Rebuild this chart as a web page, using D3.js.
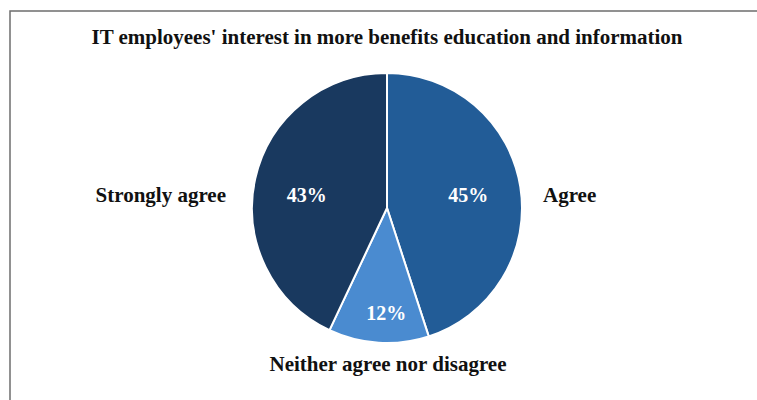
<!DOCTYPE html>
<html>
<head>
<meta charset="utf-8">
<script src="https://cdn.jsdelivr.net/npm/d3@7"></script>
<style>
  html, body { margin: 0; padding: 0; background: #fff; }
  svg { display: block; }
</style>
</head>
<body>
<svg id="chart" width="757" height="400"></svg>
<script>
const title = "IT employees' interest in more benefits education and information";
const categories = ["Agree", "Neither agree nor disagree", "Strongly agree"];
const values = [45, 12, 43];
const colors = ["#225c97", "#4a8bd0", "#19395f"];

const W = 757, H = 400;
const svg = d3.select("#chart");
const font = "'Liberation Serif', 'Times New Roman', serif";

// frame
svg.append("rect")
  .attr("x", 10).attr("y", 11)
  .attr("width", W + 20).attr("height", H + 20)
  .attr("fill", "#fff")
  .attr("stroke", "#6e6e6e").attr("stroke-width", 1.5);

// title
svg.append("text")
  .attr("x", 387).attr("y", 44)
  .attr("text-anchor", "middle")
  .attr("font-family", font).attr("font-weight", "bold")
  .attr("font-size", 20)
  .attr("textLength", 591).attr("lengthAdjust", "spacingAndGlyphs")
  .attr("fill", "#111")
  .text(title);

const cx = 387, cy = 208, r = 135;
const g = svg.append("g").attr("transform", `translate(${cx},${cy})`);

const data = categories.map((c, i) => ({ cat: c, value: values[i], color: colors[i] }));
const pie = d3.pie().sort(null).value(d => d.value).startAngle(0).endAngle(2 * Math.PI);
const arcs = pie(data);
const arc = d3.arc().innerRadius(0).outerRadius(r);
const total = d3.sum(values);
const sideY = -6;

g.selectAll("path.slice").data(arcs).join("path")
  .attr("class", "slice")
  .attr("d", arc)
  .attr("fill", d => d.data.color)
  .attr("stroke", "#fff").attr("stroke-width", 2).attr("stroke-linejoin", "round");

// percentage labels
g.selectAll("text.pct").data(arcs).join("text")
  .attr("class", "pct")
  .attr("transform", d => {
    const small = d.data.value / total < 0.2;
    const lr = small ? 0.79 * r : 0.61 * r;
    const c = d3.arc().innerRadius(lr).outerRadius(lr).centroid(d);
    const x = small ? c[0] * 0.1 : c[0];
    const y = small ? c[1] + 6 : sideY;
    return `translate(${x},${y})`;
  })
  .attr("text-anchor", "middle")
  .attr("font-family", font).attr("font-weight", "bold")
  .attr("font-size", 20)
  .attr("fill", "#fff")
  .text(d => Math.round(d.data.value / total * 100) + "%");

// category labels
g.selectAll("text.cat").data(arcs).join("text")
  .attr("class", "cat")
  .each(function(d) {
    const mid = (d.startAngle + d.endAngle) / 2;
    const sx = Math.sin(mid);
    const t = d3.select(this);
    if (Math.abs(sx) > 0.5) {
      if (sx > 0) {
        t.attr("x", r + 21).attr("y", sideY).attr("text-anchor", "start");
      } else {
        t.attr("x", -(r + 26)).attr("y", sideY).attr("text-anchor", "end");
      }
    } else {
      t.attr("x", 1).attr("y", r + 28).attr("text-anchor", "middle");
    }
  })
  .attr("font-family", font).attr("font-weight", "bold")
  .attr("font-size", 21)
  .attr("fill", "#111")
  .text(d => d.data.cat);
</script>
</body>
</html>
